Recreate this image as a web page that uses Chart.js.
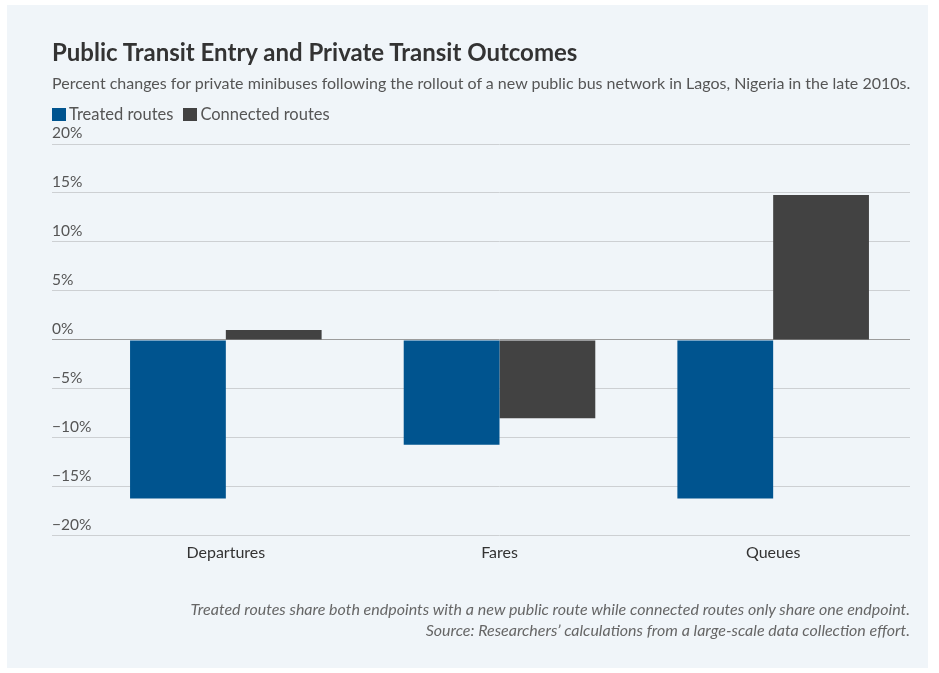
<!DOCTYPE html>
<html>
<head>
<meta charset="utf-8">
<script src="https://cdn.jsdelivr.net/npm/chart.js@4"></script>
<style>
  html, body { margin: 0; padding: 0; background: #fff; }
  body { width: 939px; height: 673px; position: relative; overflow: hidden; font-family: Lato, "Noto Sans", sans-serif; }
  .panel { position: absolute; left: 7px; top: 5px; width: 921px; height: 663px; background: #f0f5f9; }
  .txt { position: absolute; line-height: 1; white-space: nowrap; }
  #title { left: 52px; top: 40px; font-size: 24px; font-weight: 700; color: #333; }
  #subtitle { left: 52px; top: 75px; font-size: 16px; color: #555; }
  #legend { left: 52px; top: 106px; font-size: 16.5px; color: #555; }
  #legend span.box { display: inline-block; width: 14px; height: 13px; vertical-align: -1px; margin-right: 3px; }
  #legend span.item { margin-right: 10px; }
  #note { right: 29px; top: 598px; font-size: 16px; font-style: italic; color: #666; text-align: right; line-height: 21px; }
  #wrap { position: absolute; left: 0; top: 0; width: 939px; height: 673px; }
</style>
</head>
<body>
<div class="panel"></div>
<div id="wrap"><canvas id="chart"></canvas></div>
<div class="txt" id="title">Public Transit Entry and Private Transit Outcomes</div>
<div class="txt" id="subtitle">Percent changes for private minibuses following the rollout of a new public bus network in Lagos, Nigeria in the late 2010s.</div>
<div class="txt" id="legend"></div>
<div class="txt" id="note">Treated routes share both endpoints with a new public route while connected routes only share one endpoint.<br>Source: Researchers’ calculations from a large-scale data collection effort.</div>
<script>
var categories = ['Departures', 'Fares', 'Queues'];
var treatedRoutes = [-16.2, -10.7, -16.2];
var connectedRoutes = [1.0, -8.0, 14.8];
var seriesNames = ['Treated routes', 'Connected routes'];
var seriesColors = ['#00548f', '#424242'];

var legend = document.getElementById('legend');
legend.innerHTML = seriesNames.map(function (name, i) {
    return '<span class="item"><span class="box" style="background:' + seriesColors[i] + '"></span>' + name + '</span>';
}).join('');

var ctx = document.getElementById('chart').getContext('2d');

var chart = new Chart(ctx, {
    type: 'bar',
    data: {
        labels: categories,
        datasets: [{
            label: seriesNames[0],
            data: treatedRoutes,
            backgroundColor: seriesColors[0]
        }, {
            label: seriesNames[1],
            data: connectedRoutes,
            backgroundColor: seriesColors[1]
        }]
    },
    options: {
        responsive: true,
        maintainAspectRatio: false,
        animation: false,
        layout: {
            padding: { left: 52, right: 29, top: 144, bottom: 104 }
        },
        datasets: {
            bar: { categoryPercentage: 0.7, barPercentage: 1.0 }
        },
        plugins: {
            legend: { display: false },
            title: { display: false },
            tooltip: { enabled: false }
        },
        scales: {
            x: {
                grid: { display: false, drawTicks: false },
                border: { display: false },
                ticks: {
                    color: '#333',
                    padding: 7,
                    font: { family: 'Lato', size: 16 }
                }
            },
            y: {
                min: -20,
                max: 20,
                border: { display: false },
                afterFit: function (scale) { scale.width = 37; },
                grid: {
                    color: function (c) { return c.tick && c.tick.value === 0 ? '#9c9c9c' : '#cdd0d3'; },
                    tickColor: function (c) { return c.tick && c.tick.value === 0 ? '#9c9c9c' : '#cdd0d3'; },
                    drawTicks: true,
                    tickLength: 37,
                    lineWidth: 1
                },
                ticks: {
                    stepSize: 5,
                    mirror: true,
                    padding: -37,
                    labelOffset: -11,
                    color: '#555',
                    font: { family: 'Lato', size: 15.5 },
                    callback: function (v) {
                        return (v < 0 ? '\u2212' + Math.abs(v) : v) + '%';
                    }
                }
            }
        }
    }
});
</script>
</body>
</html>
